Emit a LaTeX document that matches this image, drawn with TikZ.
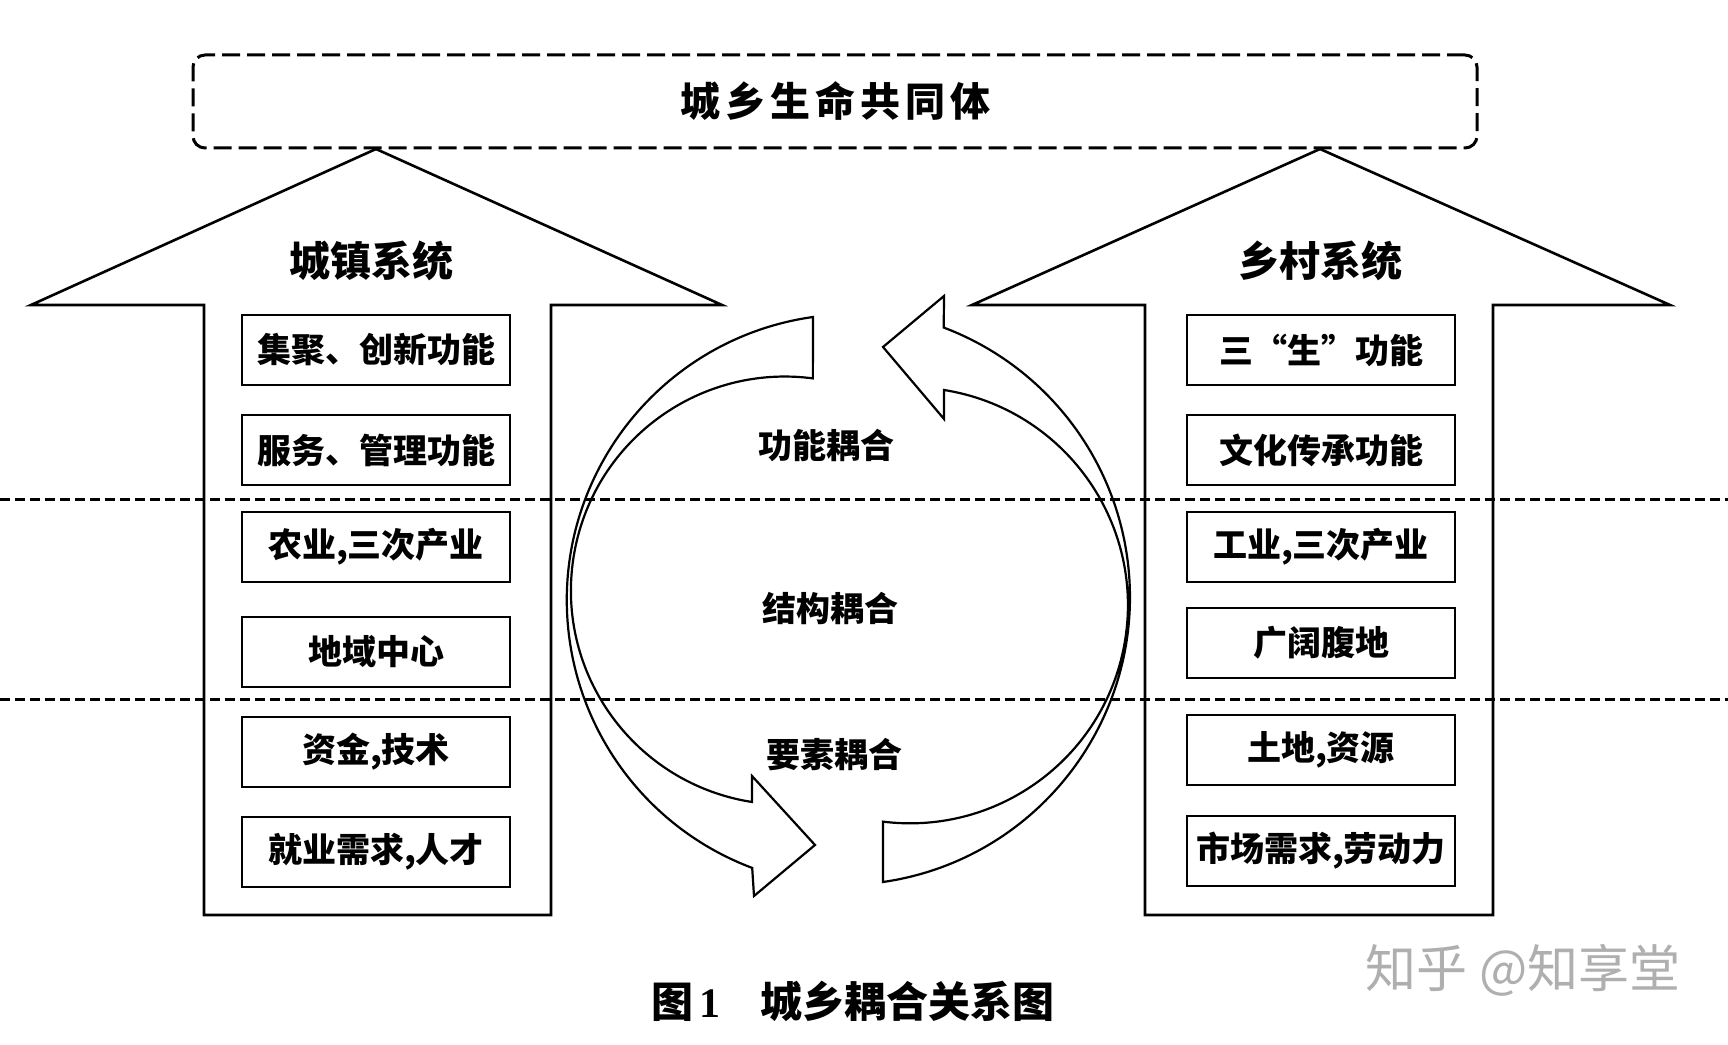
\documentclass[tikz,border=0pt]{standalone}
\usepackage{fontspec}
\newfontfamily\cjk{Noto Sans CJK SC}
\newfontfamily\capnum{Liberation Serif}
\definecolor{wmgray}{RGB}{175,175,175}
\begin{document}
\begin{tikzpicture}[x=0.5pt,y=0.5pt,
  bigarrow/.style={draw,line width=1.3pt,line join=miter},
  itembox/.style={draw,line width=1.4pt,minimum width=134pt,minimum height=35pt,inner sep=0pt,
    font=\cjk\bfseries\fontsize{17}{17}\selectfont},
  syslabel/.style={font=\cjk\bfseries\fontsize{20.5}{20.5}\selectfont},
  couplabel/.style={font=\cjk\bfseries\fontsize{17}{17}\selectfont},
  rowdash/.style={line width=1.5pt,dash pattern=on 5pt off 2.5pt},
  ringarrow/.style={draw,line width=1.1pt,line join=miter}]
\fill[white] (0,0) rectangle (1728,1044);
\useasboundingbox (0,0) rectangle (1728,1044);

% dashed separators
\coordinate (d1a) at (0,544); \coordinate (d1b) at (1728,544);
\coordinate (d2a) at (0,344); \coordinate (d2b) at (1728,344);
\draw[rowdash] (d1a) -- (d1b);
\draw[rowdash] (d2a) -- (d2b);

% top dashed box
\node[draw,line width=1.5pt,dash pattern=on 9pt off 3.5pt,rounded corners=6pt,
  minimum width=642pt,minimum height=46.5pt,inner sep=0pt,
  font=\cjk\bfseries\fontsize{20}{20}\selectfont] (top) at (835,942.5)
  {城\hspace{2.5pt}乡\hspace{2.5pt}生\hspace{2.5pt}命\hspace{2.5pt}共\hspace{2.5pt}同\hspace{2.5pt}体};

% big arrows
\draw[bigarrow] (204,129) -- (204,739) -- (31,739) -- (376,895) -- (722,739) -- (551,739) -- (551,129) -- cycle;
\draw[bigarrow] (1145,129) -- (1145,739) -- (972,739) -- (1320,895) -- (1670,739) -- (1493,739) -- (1493,129) -- cycle;

\node[syslabel] (urban) at (371,783) {城镇系统};
\node[syslabel] (rural) at (1320,783) {乡村系统};

% left items
\node[itembox] (l1) at (376,694) {集聚、创新功能};
\node[itembox] (l2) at (376,594) {服务、管理功能};
\node[itembox] (l3) at (376,497) {农业,三次产业};
\node[itembox] (l4) at (376,392) {地域中心};
\node[itembox] (l5) at (376,292) {资金,技术};
\node[itembox] (l6) at (376,192) {就业需求,人才};

% right items
\node[itembox] (r1) at (1321,694) {三“生”功能};
\node[itembox] (r2) at (1321,594) {文化传承功能};
\node[itembox] (r3) at (1321,497) {工业,三次产业};
\node[itembox] (r4) at (1321,401) {广阔腹地};
\node[itembox] (r5) at (1321,294) {土地,资源};
\node[itembox] (r6) at (1321,193) {市场需求,劳动力};

% circular arrows
\draw[ringarrow] (813,727) arc[start angle=98,end angle=249.4,radius=143pt]
  -- (754,148) -- (815,199) -- (752,268) -- (752,242)
  arc[start angle=261.15,end angle=82.5,radius=107pt] -- cycle;
\draw[ringarrow] (883,162) arc[start angle=-81.8,end angle=69.3,radius=144pt]
  -- (944,748) -- (883,697) -- (944,625) -- (944,654)
  arc[start angle=81,end angle=-97.1,radius=109pt] -- cycle;

\node[couplabel] (c1) at (826,598) {功能耦合};
\node[couplabel] (c2) at (830,436) {结构耦合};
\node[couplabel] (c3) at (834,289) {要素耦合};

% caption
\node[font=\cjk\bfseries\fontsize{21}{21}\selectfont] (cap) at (853,43)
  {图\hspace{3pt}{\capnum\bfseries 1}\hspace{20pt}城乡耦合关系图};

% watermark
\node[font=\cjk\fontsize{25.5}{25.5}\selectfont,text=wmgray] (wm) at (1523,74) {知乎 @知享堂};
\end{tikzpicture}
\end{document}
